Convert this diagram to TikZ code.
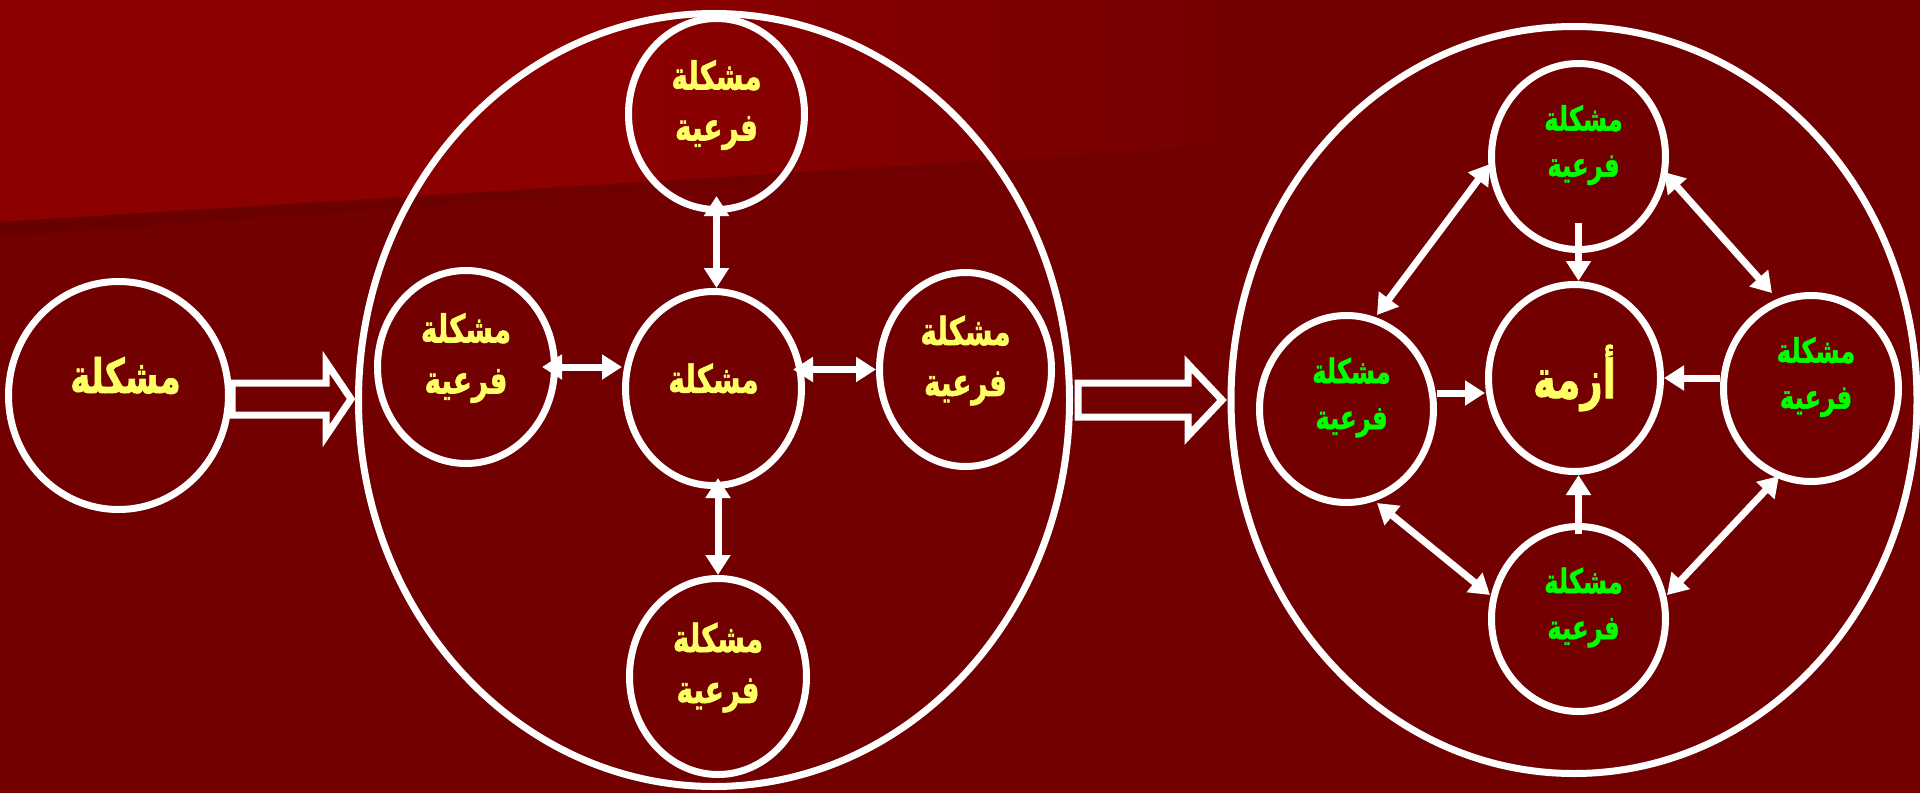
\documentclass[tikz,border=0pt]{standalone}
\usepackage{fontspec}
\usetikzlibrary{shapes.geometric,arrows.meta}
\TeXXeTstate=1
\newfontfamily\arabicfont[Script=Arabic, BoldFeatures={FakeBold=1.5}]{DejaVu Sans}
\newcommand{\artxt}[1]{\scalebox{0.9}[1.25]{\beginR #1\endR}}
\definecolor{bgdark}{HTML}{720000}
\definecolor{bglight}{HTML}{8C0000}
\definecolor{bgband}{HTML}{680000}
\definecolor{txtyellow}{HTML}{FFFF66}
\definecolor{txtgreen}{HTML}{00FF00}
\begin{document}
\begin{tikzpicture}[x=1pt,y=1pt,
  ring/.style={ellipse, draw=white, line width=7pt, inner sep=0pt},
  tipA/.tip={Triangle[length=20pt,width=24pt]},
  dbl/.style={draw=white, line width=7pt, arrows={tipA-tipA}},
  sgl/.style={draw=white, line width=7pt, arrows={-tipA}},
  hollow/.style={draw=white, line width=7pt, line join=miter},
  ytxt/.style={text=txtyellow, font=\arabicfont\bfseries\fontsize{31}{51}\selectfont, align=center, inner sep=0pt},
  ybig/.style={text=txtyellow, font=\arabicfont\bfseries\fontsize{38}{51}\selectfont, align=center, inner sep=0pt},
  ycrisis/.style={text=txtyellow, font=\arabicfont\bfseries\fontsize{43}{51}\selectfont, align=center, inner sep=0pt},
  gtxt/.style={text=txtgreen, font=\arabicfont\bfseries\fontsize{27}{46}\selectfont, align=center, inner sep=0pt},
]
\useasboundingbox (0,0) rectangle (1920,-793);
% background
\fill[bgdark] (0,0) rectangle (1920,-793);
\fill[bglight] (0,0) -- (620,0) -- (620,-183.5) -- (0,-222) -- cycle;
\shade[left color=bglight, right color=bgdark] (619,0) -- (1300,0) -- (1300,-141) -- (619,-183.5) -- cycle;
\shade[left color=bgband, right color=bgdark] (0,-222) -- (1000,-160) -- (1000,-165) -- (0,-237) -- cycle;

% rings
\node[ring, minimum width=220pt, minimum height=228pt] (L0) at (118.5,-395.5) {};
\node[ring, minimum width=711pt, minimum height=773pt] (E1) at (714,-400) {};
\node[ring, minimum width=686pt, minimum height=747pt] (E2) at (1574,-400) {};
\node[ring, minimum width=176pt, minimum height=191pt] (A_top) at (716.5,-114) {};
\node[ring, minimum width=176pt, minimum height=194pt] (A_center) at (713.5,-388.5) {};
\node[ring, minimum width=177pt, minimum height=193pt] (A_left) at (466,-367) {};
\node[ring, minimum width=172pt, minimum height=194pt] (A_right) at (965.5,-369.5) {};
\node[ring, minimum width=177pt, minimum height=196pt] (A_bottom) at (718,-676.5) {};
\node[ring, minimum width=174pt, minimum height=186pt] (B_top) at (1578.5,-156.5) {};
\node[ring, minimum width=172pt, minimum height=187pt] (B_center) at (1574.5,-378) {};
\node[ring, minimum width=174pt, minimum height=187pt] (B_left) at (1346.5,-409) {};
\node[ring, minimum width=175pt, minimum height=186pt] (B_right) at (1811,-388.5) {};
\node[ring, minimum width=174pt, minimum height=185pt] (B_bottom) at (1578.5,-619) {};

% hollow arrows
\draw[hollow] ([yshift=12.5pt]L0.east) -- ++(94,0) -- ++(0,21) -- ++(25,-37) -- ++(-25,-37) -- ++(0,21) -- ++(-94,0) -- cycle;
\draw[hollow] ([xshift=5pt,yshift=17pt]E1.east) -- ++(110,0) -- ++(0,19) -- ++(34,-36) -- ++(-34,-36) -- ++(0,19) -- ++(-110,0) -- cycle;

% left diagram arrows
\draw[dbl] ([yshift=17pt]A_top.south) -- (A_top.south |- A_center.north);
\draw[dbl] ([yshift=11pt]A_center.south -| A_bottom.north) -- (A_bottom.north);
\draw[dbl] ([xshift=-16pt]A_left.east) -- (A_left.east -| A_center.west);
\draw[dbl] ([xshift=-12pt]A_center.east |- A_right.west) -- (A_right.west);

% right diagram arrows
\draw[sgl] ([yshift=30pt]B_top.south) -- (B_top.south |- B_center.north);
\draw[sgl] ([yshift=-11pt]B_bottom.north) -- (B_bottom.north |- B_center.south);
\draw[sgl] ([yshift=16pt]B_left.east) -- ([yshift=16pt]B_left.east -| B_center.west);
\draw[sgl] (B_right.west |- B_center.east) -- (B_center.east);
\draw[dbl] ([shift={(-88.5,-7.5)}]B_top.center) -- ([shift={(30.5,94)}]B_left.center);
\draw[dbl] ([shift={(85.5,-15.5)}]B_top.center) -- ([shift={(-39,95.5)}]B_right.center);
\draw[dbl] ([shift={(30.5,-94)}]B_left.center) -- ([shift={(-88.5,24)}]B_bottom.center);
\draw[dbl] ([shift={(88.5,24)}]B_bottom.center) -- ([shift={(-32,-87.5)}]B_right.center);

% texts
\node[ybig] (t0) at ([xshift=7pt,yshift=20pt]L0.center) {\artxt{مشكلة}};
\node[ytxt] (tc) at ([yshift=10pt]A_center.center) {\artxt{مشكلة}};
\node[ytxt] (tt) at ([yshift=9pt]A_top.center) {\artxt{مشكلة}\\\artxt{فرعية}};
\node[ytxt] (tl) at ([yshift=9pt]A_left.center) {\artxt{مشكلة}\\\artxt{فرعية}};
\node[ytxt] (tr) at ([yshift=9pt]A_right.center) {\artxt{مشكلة}\\\artxt{فرعية}};
\node[ytxt] (tb) at ([yshift=9pt]A_bottom.center) {\artxt{مشكلة}\\\artxt{فرعية}};
\node[ycrisis] (tz) at (B_center.center) {\artxt{أزمة}};
\node[gtxt] (gt) at ([xshift=5pt,yshift=11.5pt]B_top.center) {\artxt{مشكلة}\\\artxt{فرعية}};
\node[gtxt] (gl) at ([xshift=5pt,yshift=11.5pt]B_left.center) {\artxt{مشكلة}\\\artxt{فرعية}};
\node[gtxt] (gr) at ([xshift=5pt,yshift=11.5pt]B_right.center) {\artxt{مشكلة}\\\artxt{فرعية}};
\node[gtxt] (gb) at ([xshift=5pt,yshift=11.5pt]B_bottom.center) {\artxt{مشكلة}\\\artxt{فرعية}};
\end{tikzpicture}
\end{document}
